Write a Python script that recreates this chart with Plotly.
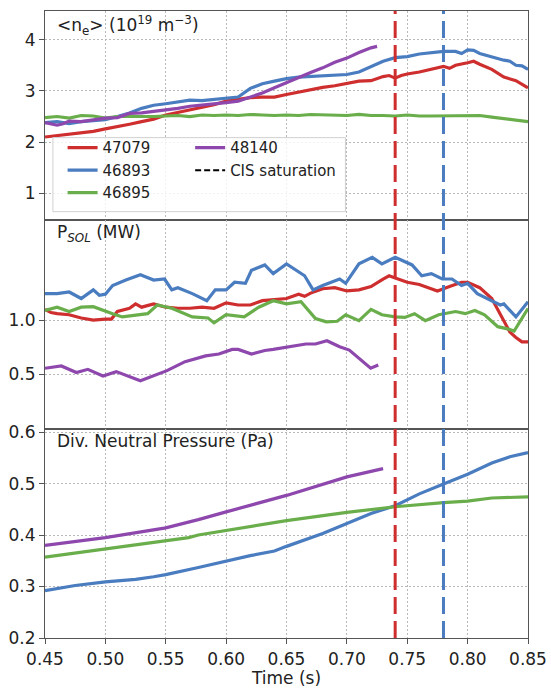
import plotly.graph_objects as go
from plotly.subplots import make_subplots

# ---------------- data ----------------
shots = ["47079", "46893", "46895", "48140"]
colors = {"47079": "#cf2e2e", "46893": "#4a7cc0", "46895": "#6aae4c", "48140": "#8e48ad"}
cis_saturation = {"47079": 0.74, "46893": 0.78}

# <n_e> (1e19 m^-3)
ne_t_47079 = [0.45, 0.46, 0.47, 0.48, 0.49, 0.50, 0.51, 0.52, 0.53, 0.54, 0.55, 0.56, 0.57, 0.58, 0.59, 0.60,
              0.61, 0.62, 0.63, 0.64, 0.65, 0.66, 0.67, 0.68, 0.69, 0.70, 0.71, 0.72, 0.73, 0.735, 0.74, 0.745,
              0.75, 0.76, 0.77, 0.78, 0.785, 0.79, 0.80, 0.805, 0.81, 0.82, 0.83, 0.84, 0.85]
ne_v_47079 = [2.10, 2.13, 2.16, 2.18, 2.21, 2.26, 2.30, 2.35, 2.40, 2.45, 2.53, 2.58, 2.62, 2.68, 2.73, 2.80,
              2.84, 2.87, 2.88, 2.88, 2.93, 2.98, 3.03, 3.07, 3.10, 3.15, 3.19, 3.20, 3.28, 3.30, 3.25, 3.30,
              3.33, 3.37, 3.42, 3.48, 3.44, 3.50, 3.55, 3.58, 3.52, 3.42, 3.27, 3.20, 3.06]
ne_t_46893 = [0.45, 0.46, 0.47, 0.48, 0.49, 0.50, 0.51, 0.52, 0.53, 0.54, 0.55, 0.56, 0.57, 0.58, 0.59, 0.60,
              0.61, 0.62, 0.63, 0.64, 0.65, 0.66, 0.67, 0.68, 0.69, 0.70, 0.71, 0.72, 0.73, 0.74, 0.75, 0.76,
              0.77, 0.78, 0.79, 0.795, 0.80, 0.805, 0.81, 0.82, 0.83, 0.835, 0.84, 0.845, 0.85]
ne_v_46893 = [2.38, 2.40, 2.36, 2.40, 2.42, 2.44, 2.50, 2.57, 2.66, 2.72, 2.75, 2.79, 2.82, 2.81, 2.83, 2.85,
              2.88, 3.05, 3.14, 3.19, 3.24, 3.27, 3.28, 3.29, 3.31, 3.32, 3.37, 3.47, 3.58, 3.65, 3.67, 3.72,
              3.75, 3.77, 3.77, 3.73, 3.80, 3.79, 3.73, 3.66, 3.60, 3.58, 3.50, 3.49, 3.42]
ne_t_46895 = [0.45, 0.46, 0.47, 0.48, 0.49, 0.50, 0.51, 0.52, 0.53, 0.54, 0.55, 0.56, 0.57, 0.58, 0.59, 0.60,
              0.61, 0.62, 0.63, 0.64, 0.65, 0.66, 0.67, 0.68, 0.69, 0.70, 0.71, 0.72, 0.73, 0.74, 0.75, 0.76,
              0.77, 0.78, 0.79, 0.80, 0.81, 0.82, 0.83, 0.84, 0.85]
ne_v_46895 = [2.48, 2.50, 2.47, 2.52, 2.51, 2.47, 2.50, 2.50, 2.49, 2.50, 2.51, 2.52, 2.50, 2.53, 2.52, 2.53,
              2.52, 2.54, 2.53, 2.52, 2.53, 2.52, 2.54, 2.53, 2.53, 2.52, 2.54, 2.52, 2.52, 2.51, 2.53, 2.51,
              2.51, 2.51, 2.52, 2.52, 2.52, 2.49, 2.46, 2.43, 2.40]
ne_t_48140 = [0.45, 0.455, 0.46, 0.465, 0.47, 0.48, 0.49, 0.50, 0.51, 0.52, 0.53, 0.54, 0.55, 0.56, 0.57, 0.58,
              0.59, 0.60, 0.61, 0.62, 0.63, 0.64, 0.65, 0.66, 0.67, 0.68, 0.69, 0.70, 0.71, 0.72, 0.725]
ne_v_48140 = [2.38, 2.36, 2.33, 2.36, 2.41, 2.40, 2.43, 2.47, 2.48, 2.56, 2.57, 2.60, 2.62, 2.66, 2.70, 2.72,
              2.74, 2.77, 2.80, 2.88, 2.96, 3.06, 3.16, 3.27, 3.36, 3.45, 3.56, 3.64, 3.75, 3.84, 3.87]

# P_SOL (MW)
ps_t_47079 = [0.45, 0.455, 0.46, 0.47, 0.48, 0.49, 0.50, 0.505, 0.51, 0.52, 0.525, 0.53, 0.54, 0.55, 0.56, 0.57,
              0.58, 0.59, 0.60, 0.61, 0.62, 0.63, 0.64, 0.65, 0.66, 0.665, 0.67, 0.68, 0.69, 0.70, 0.71, 0.72,
              0.73, 0.735, 0.74, 0.75, 0.76, 0.77, 0.775, 0.785, 0.795, 0.80, 0.81, 0.82, 0.83, 0.835, 0.84,
              0.845, 0.85]
ps_v_47079 = [1.10, 1.07, 1.06, 1.05, 1.02, 1.00, 1.01, 1.01, 1.08, 1.11, 1.15, 1.12, 1.15, 1.12, 1.11, 1.11,
              1.12, 1.11, 1.16, 1.14, 1.14, 1.18, 1.19, 1.20, 1.24, 1.22, 1.25, 1.29, 1.30, 1.27, 1.28, 1.31,
              1.38, 1.41, 1.39, 1.35, 1.33, 1.29, 1.27, 1.31, 1.35, 1.35, 1.30, 1.20, 1.00, 0.89, 0.84,
              0.80, 0.80]
ps_t_46893 = [0.45, 0.46, 0.47, 0.48, 0.49, 0.495, 0.50, 0.506, 0.517, 0.529, 0.540, 0.549, 0.555, 0.56, 0.572,
              0.584, 0.591, 0.60, 0.607, 0.616, 0.621, 0.632, 0.639, 0.650, 0.665, 0.672, 0.680, 0.694, 0.699,
              0.71, 0.721, 0.729, 0.74, 0.754, 0.762, 0.770, 0.779, 0.787, 0.795, 0.80, 0.808, 0.819, 0.827,
              0.83, 0.84, 0.85]
ps_v_46893 = [1.245, 1.245, 1.26, 1.20, 1.28, 1.23, 1.24, 1.32, 1.37, 1.42, 1.37, 1.38, 1.28, 1.30, 1.245,
              1.18, 1.28, 1.28, 1.35, 1.34, 1.46, 1.51, 1.43, 1.52, 1.41, 1.28, 1.32, 1.38, 1.34,
              1.52, 1.58, 1.52, 1.58, 1.51, 1.41, 1.43, 1.38, 1.38, 1.32, 1.34, 1.245, 1.18, 1.14,
              1.15, 1.03, 1.17]
ps_t_46895 = [0.45, 0.46, 0.47, 0.48, 0.49, 0.50, 0.506, 0.514, 0.529, 0.535, 0.543, 0.555, 0.572, 0.585, 0.59,
              0.60, 0.615, 0.627, 0.639, 0.650, 0.662, 0.674, 0.683, 0.692, 0.699, 0.71, 0.72, 0.729, 0.74,
              0.748, 0.756, 0.765, 0.776, 0.79, 0.798, 0.806, 0.814, 0.825, 0.833, 0.8385, 0.85]
ps_v_46895 = [1.09, 1.12, 1.08, 1.12, 1.125, 1.08, 1.06, 1.03, 1.05, 1.06, 1.14, 1.11, 1.03, 1.02, 0.975,
              1.05, 1.03, 1.12, 1.18, 1.15, 1.17, 1.015, 0.985, 0.99, 1.05, 0.995, 1.10, 1.05, 1.03,
              1.025, 1.06, 0.995, 1.05, 1.08, 1.06, 1.09, 1.05, 0.94, 0.92, 0.90, 1.107]
ps_t_48140 = [0.45, 0.4635, 0.476, 0.4855, 0.498, 0.509, 0.529, 0.540, 0.551, 0.566, 0.583, 0.594, 0.605, 0.61,
              0.621, 0.632, 0.639, 0.666, 0.674, 0.6835, 0.694, 0.702, 0.71, 0.7197, 0.726]
ps_v_48140 = [0.556, 0.577, 0.516, 0.546, 0.485, 0.525, 0.44, 0.485, 0.534, 0.617, 0.67, 0.687, 0.73, 0.73,
              0.687, 0.72, 0.73, 0.78, 0.78, 0.81, 0.755, 0.724, 0.648, 0.556, 0.586]

# Divertor neutral pressure (Pa)
dp_t_46893 = [0.45, 0.475, 0.50, 0.525, 0.54, 0.55, 0.577, 0.60, 0.62, 0.64, 0.65, 0.68, 0.70, 0.72, 0.74,
              0.76, 0.78, 0.80, 0.82, 0.835, 0.85]
dp_v_46893 = [0.292, 0.302, 0.309, 0.314, 0.319, 0.323, 0.337, 0.350, 0.360, 0.369, 0.378, 0.403, 0.422, 0.442,
              0.457, 0.480, 0.499, 0.518, 0.540, 0.552, 0.560]
dp_t_46895 = [0.45, 0.50, 0.55, 0.569, 0.577, 0.60, 0.65, 0.70, 0.74, 0.78, 0.80, 0.82, 0.85]
dp_v_46895 = [0.357, 0.373, 0.389, 0.395, 0.400, 0.409, 0.428, 0.444, 0.455, 0.463, 0.466, 0.472, 0.474]
dp_t_48140 = [0.45, 0.50, 0.55, 0.569, 0.577, 0.60, 0.65, 0.70, 0.73]
dp_v_48140 = [0.380, 0.395, 0.414, 0.425, 0.430, 0.445, 0.477, 0.513, 0.529]

panel_titles = ["&lt;n<sub>e</sub>&gt; (10<sup>19</sup> m<sup>−3</sup>)",
                "P<sub><i>SOL</i></sub> (MW)",
                "Div. Neutral Pressure (Pa)"]
x_title = "Time (s)"
x_ticks = [0.45, 0.50, 0.55, 0.60, 0.65, 0.70, 0.75, 0.80, 0.85]
y1_ticks = [1, 2, 3, 4]
y2_ticks = [0.5, 1.0]
y3_ticks = [0.2, 0.3, 0.4, 0.5, 0.6]

# ---------------- figure ----------------
FONT = "DejaVu Sans"
fig = make_subplots(rows=3, cols=1, shared_xaxes=True, vertical_spacing=0)

ne = {"47079": (ne_t_47079, ne_v_47079), "46893": (ne_t_46893, ne_v_46893),
      "46895": (ne_t_46895, ne_v_46895), "48140": (ne_t_48140, ne_v_48140)}
ps = {"47079": (ps_t_47079, ps_v_47079), "46893": (ps_t_46893, ps_v_46893),
      "46895": (ps_t_46895, ps_v_46895), "48140": (ps_t_48140, ps_v_48140)}
dp = {"46893": (dp_t_46893, dp_v_46893), "46895": (dp_t_46895, dp_v_46895),
      "48140": (dp_t_48140, dp_v_48140)}

legend_of = {"47079": "legend", "46893": "legend", "46895": "legend", "48140": "legend2"}

for s in shots:
    t, v = ne[s]
    fig.add_trace(go.Scatter(x=t, y=v, mode="lines", name=s, line=dict(color=colors[s], width=3.2),
                             legend=legend_of[s], showlegend=True), row=1, col=1)
for s in shots:
    t, v = ps[s]
    fig.add_trace(go.Scatter(x=t, y=v, mode="lines", name=s, line=dict(color=colors[s], width=3.2),
                             showlegend=False), row=2, col=1)
for s in ["46893", "46895", "48140"]:
    t, v = dp[s]
    fig.add_trace(go.Scatter(x=t, y=v, mode="lines", name=s, line=dict(color=colors[s], width=3.2),
                             showlegend=False), row=3, col=1)

# legend entry for the CIS saturation markers
fig.add_trace(go.Scatter(x=[None], y=[None], mode="lines", name="CIS saturation",
                         line=dict(color="black", width=2, dash="6px,3px"), legend="legend2"),
              row=1, col=1)

# vertical dashed lines spanning all panels
for s, tsat in cis_saturation.items():
    fig.add_shape(type="line", xref="x", yref="paper", x0=tsat, x1=tsat, y0=0, y1=1,
                  line=dict(color=colors[s], width=3, dash="17px,7px"), layer="above")

# legend frame
fig.add_shape(type="rect", xref="paper", yref="paper", x0=0.0164, x1=0.622, y0=0.680, y1=0.798,
              line=dict(color="#d0d0d0", width=1), fillcolor="rgba(255,255,255,0.8)", layer="above")

axis_common = dict(showline=True, linecolor="#555", linewidth=1.2, mirror=True,
                   showgrid=True, gridcolor="#b8b8b8", griddash="2px,2px", gridwidth=1,
                   zeroline=False, tickfont=dict(family=FONT, size=17, color="#222"))

for r in (1, 2, 3):
    fig.update_xaxes(range=[0.45, 0.85], tickvals=x_ticks, row=r, col=1, **axis_common)
fig.update_xaxes(showticklabels=False, ticks="", row=1, col=1)
fig.update_xaxes(showticklabels=False, ticks="", row=2, col=1)
fig.update_xaxes(ticks="outside", ticklen=5, tickcolor="#555",
                 ticktext=[f"{v:.2f}" for v in x_ticks],
                 title=dict(text=x_title, font=dict(family=FONT, size=17, color="#222"), standoff=4),
                 row=3, col=1)

fig.update_yaxes(range=[0.48, 4.56], tickvals=y1_ticks, ticktext=[str(v) for v in y1_ticks],
                 ticks="outside", ticklen=5, tickcolor="#555", row=1, col=1, **axis_common)
fig.update_yaxes(range=[-0.005, 1.925], tickvals=y2_ticks, ticktext=[f"{v:.1f}" for v in y2_ticks],
                 ticks="outside", ticklen=5, tickcolor="#555", row=2, col=1, **axis_common)
fig.update_yaxes(range=[0.2, 0.606], tickvals=y3_ticks, ticktext=[f"{v:.1f}" for v in y3_ticks],
                 ticks="outside", ticklen=5, tickcolor="#555", row=3, col=1, **axis_common)

for i, txt in enumerate(panel_titles):
    ax = "" if i == 0 else str(i + 1)
    fig.add_annotation(text=txt, xref=f"x{ax} domain", yref=f"y{ax} domain", x=0.02, y=1.0,
                       xanchor="left", yanchor="top", showarrow=False,
                       font=dict(family=FONT, size=17, color="#222"))

legend_font = dict(family=FONT, size=15, color="#222")
fig.update_layout(
    width=551, height=688,
    margin=dict(l=45, r=19, t=4, b=50),
    paper_bgcolor="white", plot_bgcolor="white",
    font=dict(family=FONT, size=17, color="#222"),
    legend=dict(x=0.0364, y=0.808, xanchor="left", yanchor="top", bgcolor="rgba(0,0,0,0)",
                font=legend_font, tracegroupgap=0, itemwidth=30),
    legend2=dict(x=0.3005, y=0.808, xanchor="left", yanchor="top", bgcolor="rgba(0,0,0,0)",
                 font=legend_font, tracegroupgap=0, itemwidth=30),
)

fig.write_html("out.html", config={"displayModeBar": False},
               post_script="document.body.style.margin='0px';")
